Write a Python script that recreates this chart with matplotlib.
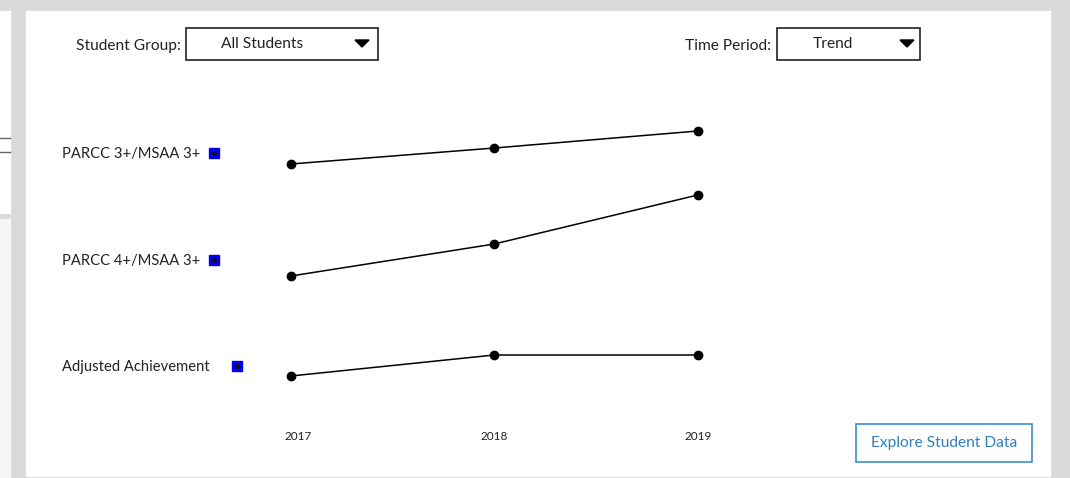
import numpy as np
import matplotlib.pyplot as plt
from matplotlib.patches import Rectangle, Polygon

plt.rcParams['font.family'] = ['Lato', 'DejaVu Sans']

# data
years = [2017, 2018, 2019]
measures = ['PARCC 3+/MSAA 3+', 'PARCC 4+/MSAA 3+', 'Adjusted Achievement']
parcc3 = [314, 330, 347]
parcc4 = [202, 234, 283]
adjusted = [102, 123, 123]
series = [parcc3, parcc4, adjusted]

W, H = 1070, 478
fs = 11.2
fig = plt.figure(figsize=(W / 100, H / 100), dpi=100)

# background / widgets in pixel coords
bg = fig.add_axes([0, 0, 1, 1])
bg.set_xlim(0, W)
bg.set_ylim(H, 0)
bg.axis('off')

grey = '#d9d9d9'
bg.add_patch(Rectangle((0, 0), W, H, color=grey, zorder=0))
bg.add_patch(Rectangle((0, 11), 10, 202, color='white', zorder=1))
bg.add_patch(Rectangle((0, 219), 10, H - 219, color='#f6f6f6', zorder=1))
bg.plot([0, 10], [138, 138], color='#666666', lw=1, zorder=2)
bg.plot([0, 10], [152, 152], color='#666666', lw=1, zorder=2)
bg.add_patch(Rectangle((26, 11), 1024, 465, color='white', zorder=1))

# dropdowns
bg.text(181, 46, 'Student Group:', ha='right', va='center', fontsize=fs, color='#222222', zorder=3)
bg.add_patch(Rectangle((186, 28), 192, 32, fill=False, ec='#222222', lw=1.2, zorder=3))
bg.text(262, 44, 'All Students', ha='center', va='center', fontsize=fs, color='#222222', zorder=3)
bg.add_patch(Polygon([[355, 40], [369, 40], [362, 47]], color='black', zorder=3))

bg.text(771, 46, 'Time Period:', ha='right', va='center', fontsize=fs, color='#222222', zorder=3)
bg.add_patch(Rectangle((777, 28), 143, 32, fill=False, ec='#222222', lw=1.2, zorder=3))
bg.text(833, 44, 'Trend', ha='center', va='center', fontsize=fs, color='#222222', zorder=3)
bg.add_patch(Polygon([[900, 40], [914, 40], [907, 47]], color='black', zorder=3))

# button
bg.add_patch(Rectangle((856, 424), 176, 38, fill=False, ec='#3d8fd1', lw=1.2, zorder=3))
bg.text(944, 443, 'Explore Student Data', ha='center', va='center', fontsize=fs,
        color='#2f7fc1', zorder=3)

# row labels with blue markers
label_y = [153, 260, 366]
square_x = [214, 214, 237]
for name, ly, sx in zip(measures, label_y, square_x):
    bg.text(62, ly + 1, name, ha='left', va='center', fontsize=10.6, color='#222222', zorder=3)
    bg.plot(sx, ly, marker='s', ms=6.5, mfc='#0000ee', mec='#0000ee', zorder=3)
    bg.plot(sx, ly, marker='o', ms=2.5, color='#111111', zorder=4)

# trend lines
ax = fig.add_axes([0, 0, 1, 1])
ax.patch.set_alpha(0)
ax.set_xlim(2015.57, 2020.83)
ax.set_ylim(0, H)
ax.axis('off')
for vals in series:
    ax.plot(years, vals, color='black', lw=1.1, marker='o', ms=6, zorder=5)

for yr, dx in zip(years, [0.035, 0, 0]):
    ax.text(yr + dx, H - 437, str(yr), ha='center', va='center', fontsize=8.5, color='#222222')

fig.savefig('out.png', dpi=100)
